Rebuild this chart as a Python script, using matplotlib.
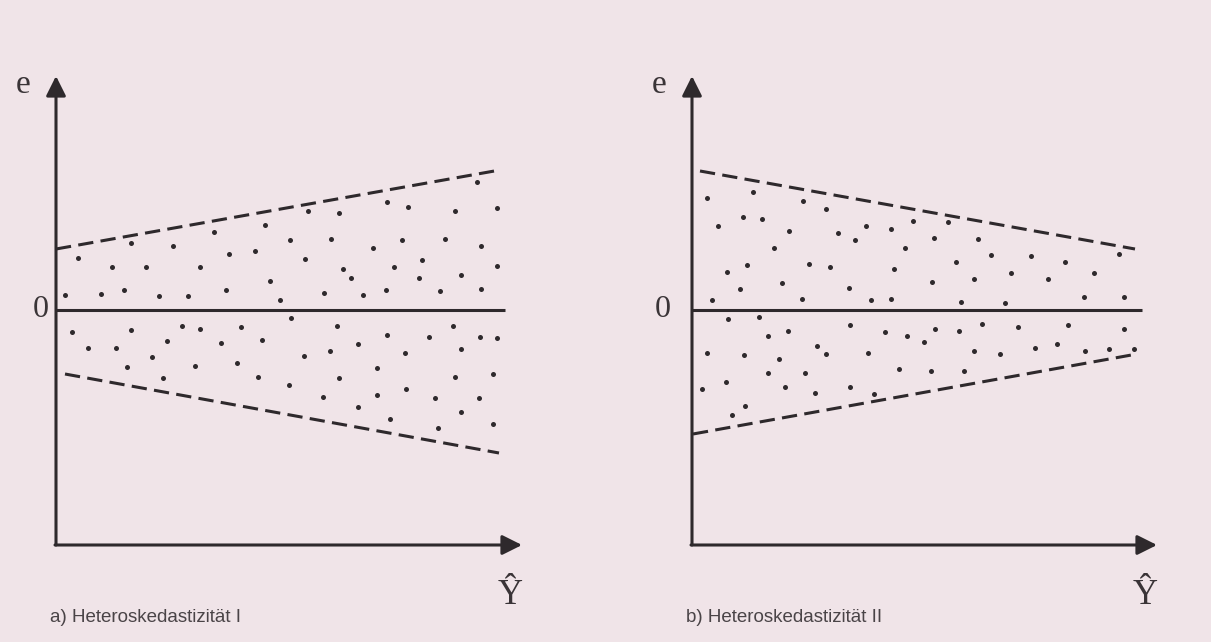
import matplotlib.pyplot as plt
import numpy as np

# residual scatter, panel a (x = Y-hat, y = e)
a_upper_x = [2.2, 7.5, 5.6, 9.0, 11.7, 14.4, 15.8, 17.3, 19.9, 20.9, 21.4, 0.9, 4.5, 6.8, 10.3,
             13.2, 17.0, 22.4, 25.2, 28.3, 33.1, 35.2, 39.9, 42.1, 44.1, 23.4, 27.5, 31.7, 34.6,
             38.9, 42.5, 24.9, 28.7, 29.5, 33.8, 36.6, 36.3, 40.5, 44.1, 26.8, 30.7, 33.0, 38.4, 42.5]
a_upper_y = [5.2, 6.7, 4.3, 4.3, 6.4, 4.3, 7.8, 5.6, 5.9, 8.5, 2.9, 1.5, 1.6, 2.0, 1.4,
             1.4, 2.0, 1.0, 9.9, 9.7, 10.8, 10.3, 9.9, 12.8, 10.2, 7.0, 7.1, 6.2, 7.0,
             7.1, 6.4, 5.1, 4.1, 3.2, 4.3, 5.0, 3.2, 3.5, 4.4, 1.7, 1.5, 2.0, 1.9, 2.1]
a_lower_x = [1.6, 3.2, 6.0, 7.5, 7.1, 9.6, 11.1, 12.6, 14.4, 10.7, 13.9, 16.5, 18.1, 18.5, 20.6,
             20.2, 23.5, 28.1, 33.1, 37.3, 39.7, 42.4, 44.1, 24.8, 27.4, 30.2, 34.9, 40.5, 32.1,
             23.3, 28.3, 39.9, 43.7, 26.7, 32.1, 35.0, 37.9, 42.3, 30.2, 40.5, 33.4, 38.2, 43.7]
a_lower_y = [-2.2, -3.8, -3.8, -2.0, -5.7, -4.7, -3.1, -1.6, -1.9, -6.8, -5.6, -3.3, -5.3, -1.7, -3.0,
             -6.7, -0.8, -1.6, -2.5, -2.7, -1.6, -2.7, -2.8, -4.6, -4.1, -3.4, -4.3, -3.9, -5.8,
             -7.5, -6.8, -6.7, -6.4, -8.7, -8.5, -7.9, -8.8, -8.8, -9.7, -10.2, -10.9, -11.8, -11.4]

# residual scatter, panel b
b_upper_x = [1.5, 6.1, 11.1, 13.4, 2.6, 5.1, 7.0, 9.7, 14.6, 16.3, 17.4, 19.9, 22.1, 21.3, 8.2,
             3.5, 5.5, 11.7, 13.8, 20.2, 4.8, 9.0, 15.7, 2.0, 11.0, 17.9, 19.9, 25.6, 24.2, 28.6,
             26.4, 29.9, 33.9, 37.3, 42.7, 24.0, 28.2, 31.9, 35.6, 40.2, 26.9, 31.3, 39.2, 43.2]
b_upper_y = [11.2, 11.8, 10.9, 10.1, 8.4, 9.3, 9.1, 7.9, 7.7, 7.0, 8.4, 8.1, 8.9, 6.2, 6.2,
             3.8, 4.5, 4.6, 4.3, 4.1, 2.1, 2.7, 2.2, 1.0, 1.1, 1.0, 1.1, 8.8, 7.2, 7.1,
             4.8, 5.5, 5.4, 4.8, 5.6, 2.8, 3.1, 3.7, 3.1, 3.7, 0.8, 0.7, 1.3, 1.3]
b_lower_x = [3.6, 6.7, 7.6, 9.6, 15.8, 19.3, 21.5, 1.5, 5.2, 8.7, 12.5, 13.4, 17.6, 7.6, 11.3,
             20.7, 1.0, 3.4, 9.3, 12.3, 15.8, 18.2, 5.3, 4.0, 24.3, 26.7, 29.0, 32.6, 37.6, 43.2,
             23.2, 28.2, 30.8, 34.3, 36.5, 39.3, 41.7, 44.2, 23.9, 27.2]
b_lower_y = [-0.9, -0.7, -2.6, -2.1, -1.5, -2.2, -2.6, -4.3, -4.5, -4.9, -3.6, -4.4, -4.3, -6.3, -6.3,
             -5.9, -7.9, -7.2, -7.7, -8.3, -7.7, -8.4, -9.6, -10.5, -1.9, -2.1, -1.4, -1.7, -1.5, -1.9,
             -3.2, -4.1, -4.4, -3.8, -3.4, -4.1, -3.9, -3.9, -6.1, -6.1]

# dashed envelopes: (x_start, x_end), (e_start, e_end)
a_env_upper = ([0.0, 44.4], [6.1, 14.0])
a_env_lower = ([0.9, 44.3], [-6.4, -14.3])
b_env_upper = ([0.8, 44.3], [13.9, 6.1])
b_env_lower = ([0.1, 44.5], [-12.4, -4.4])

captions = ['a) Heteroskedastizität I', 'b) Heteroskedastizität II']

INK = '#2e292c'
BG = '#f0e4e8'
W, H = 1211, 642


def make_panel(fig, px_left, px_right, px_origin, dots, env_up, env_low, caption, x_tip, zero_end):
    # axes covering a vertical strip, 10 px per data unit, origin at (px_origin, 310)
    ax = fig.add_axes([px_left / W, 0, (px_right - px_left) / W, 1])
    ax.set_xlim((px_left - px_origin) / 10, (px_right - px_origin) / 10)
    ax.set_ylim((310 - H) / 10, 310 / 10)
    ax.axis('off')

    y_bottom, y_tip = -23.5, 23.4
    arrow = dict(arrowstyle='-|>,head_length=0.6,head_width=0.3', lw=2.2, color=INK,
                 shrinkA=0, shrinkB=0, mutation_scale=20)
    ax.annotate('', xy=(0, y_tip), xytext=(0, y_bottom), arrowprops=arrow)
    ax.annotate('', xy=(x_tip, y_bottom), xytext=(-0.1, y_bottom), arrowprops=arrow)

    # zero line
    ax.plot([0, zero_end], [0, 0], color=INK, lw=2.2, solid_capstyle='butt')

    for xs, ys in dots:
        ax.plot(xs, ys, 'o', ms=3.6, color=INK, mec='none')

    for env in (env_up, env_low):
        ax.plot(env[0], env[1], color=INK, lw=2.2, linestyle=(0, (5, 2.4)))

    serif = dict(family='Liberation Serif', color='#3a3437')
    ax.text(-3.3, 22.5, 'e', fontsize=24, ha='center', va='center', **serif)
    ax.text(-1.5 if px_origin < 600 else -2.9, 0, '0', fontsize=23, ha='center', va='center', **serif)
    ax.text(x_tip - 1.2, -28.5, 'Ŷ', fontsize=25, ha='center', va='center', **serif)
    ax.text(-0.6, -30.7, caption, fontsize=13.5, family='Liberation Sans', color='#4a4447',
            ha='left', va='center')
    return ax


fig = plt.figure(figsize=(W / 100, H / 100), dpi=100, facecolor=BG)

make_panel(fig, 0, 605, 56, [(a_upper_x, a_upper_y), (a_lower_x, a_lower_y)],
           a_env_upper, a_env_lower, captions[0], 46.6, 44.9)
make_panel(fig, 605, W, 692, [(b_upper_x, b_upper_y), (b_lower_x, b_lower_y)],
           b_env_upper, b_env_lower, captions[1], 46.5, 45.0)

plt.savefig('out.png', dpi=100, facecolor=BG)
plt.close()
